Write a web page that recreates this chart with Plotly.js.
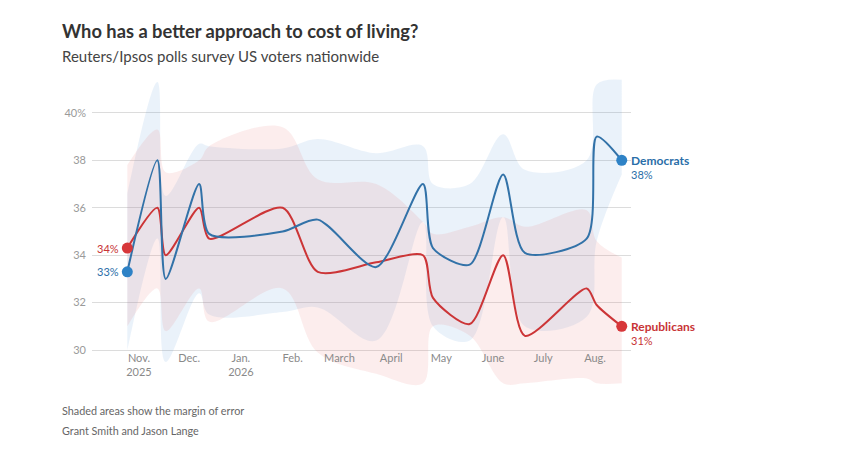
<!DOCTYPE html>
<html>
<head>
<meta charset="utf-8">
<script src="https://cdn.plot.ly/plotly-3.0.1.min.js"></script>
<style>
html,body{margin:0;padding:0;background:#fff;}
#chart{width:842px;height:453px;}
</style>
</head>
<body>
<div id="chart"></div>
<script>
// ---- data ----
const dates = ['2025-10-25','2025-11-12','2025-11-17','2025-12-07','2025-12-13','2026-01-26','2026-02-16','2026-03-23','2026-04-20','2026-04-26','2026-05-18','2026-06-07','2026-06-20','2026-07-27','2026-08-02','2026-08-17'];
const dem   = [33.3,38.0,33.0,37.0,34.9,35.0,35.5,33.5,37.0,34.3,33.6,37.4,34.1,34.7,39.0,38.0];
const rep   = [34.3,36.0,34.0,36.0,34.7,36.0,33.3,33.7,34.0,32.2,31.1,34.0,30.6,32.6,31.9,31.0];
const demHi = [36.6,41.3,36.5,38.7,38.6,38.5,38.9,38.3,38.6,37.0,37.0,39.1,37.6,38.0,41.2,41.4];
const demLo = [30.0,34.7,29.5,32.4,31.5,31.6,31.8,30.4,35.4,31.0,30.4,35.6,31.0,31.4,34.6,37.4];
const repHi = [37.8,39.3,37.5,38.0,38.6,39.4,37.2,37.0,35.4,34.9,35.2,35.6,35.2,35.9,34.6,33.9];
const repLo = [31.0,32.6,30.8,32.6,31.2,32.6,29.9,29.0,28.6,31.0,30.6,28.6,28.6,28.8,28.6,28.6];

const tickDates = ['2025-11-01','2025-12-01','2026-01-01','2026-02-01','2026-03-01','2026-04-01','2026-05-01','2026-06-01','2026-07-01','2026-08-01'];
const tickLabels = ['Nov.<br>2025','Dec.','Jan.<br>2026','Feb.','March','April','May','June','July','Aug.'];
const yTicks = [30,32,34,36,38,40];
const yTickLabels = ['30','32','34','36','38','40%'];

// ---- styling ----
const BLUE_LINE = '#3272a8', BLUE_DOT = '#2e82c6', BLUE_TXT = '#2a6ea8';
const RED_LINE = '#cc3537', RED_DOT = '#d7373a', RED_TXT = '#c83436';
const FONT = 'Lato, "Open Sans", sans-serif';

// plot-area pixel geometry
const L = 92, R = 631, T = 75, B = 388;
const W = 842, H = 453;
const px = x => (x - L) / (R - L);
const py = y => (B - y) / (B - T);

const last = dates.length - 1;

const traces = [
  {x: dates, y: demLo, type: 'scatter', mode: 'lines', line: {width: 0, shape: 'spline', smoothing: 1}, hoverinfo: 'skip', showlegend: false},
  {x: dates, y: demHi, type: 'scatter', mode: 'lines', fill: 'tonexty', fillcolor: 'rgba(80,147,213,0.12)', line: {width: 0, shape: 'spline', smoothing: 1}, hoverinfo: 'skip', showlegend: false},
  {x: dates, y: repLo, type: 'scatter', mode: 'lines', line: {width: 0, shape: 'spline', smoothing: 1}, hoverinfo: 'skip', showlegend: false},
  {x: dates, y: repHi, type: 'scatter', mode: 'lines', fill: 'tonexty', fillcolor: 'rgba(228,115,115,0.13)', line: {width: 0, shape: 'spline', smoothing: 1}, hoverinfo: 'skip', showlegend: false},
  {x: dates, y: rep, type: 'scatter', mode: 'lines', line: {color: RED_LINE, width: 2, shape: 'spline', smoothing: 0.75}, showlegend: false},
  {x: dates, y: dem, type: 'scatter', mode: 'lines', line: {color: BLUE_LINE, width: 2, shape: 'spline', smoothing: 0.75}, showlegend: false},
  {x: [dates[0], dates[last]], y: [rep[0], rep[last]], type: 'scatter', mode: 'markers', marker: {color: RED_DOT, size: 11}, showlegend: false, cliponaxis: false},
  {x: [dates[0], dates[last]], y: [dem[0], dem[last]], type: 'scatter', mode: 'markers', marker: {color: BLUE_DOT, size: 11}, showlegend: false, cliponaxis: false}
];

const annotations = [
  {xref: 'paper', yref: 'paper', x: px(60), y: py(56), xanchor: 'left', yanchor: 'middle', showarrow: false,
   text: 'Reuters/Ipsos polls survey US voters nationwide', font: {family: FONT, size: 15, color: '#444'}},
  {xref: 'paper', yref: 'paper', x: px(60), y: py(410), xanchor: 'left', yanchor: 'middle', showarrow: false,
   text: 'Shaded areas show the margin of error', font: {family: FONT, size: 10.8, color: '#666'}},
  {xref: 'paper', yref: 'paper', x: px(60), y: py(430), xanchor: 'left', yanchor: 'middle', showarrow: false,
   text: 'Grant Smith and Jason Lange', font: {family: FONT, size: 10.8, color: '#666'}},
  // start labels
  {x: dates[0], y: rep[0], xanchor: 'right', yanchor: 'middle', xshift: -6, showarrow: false,
   text: Math.round(rep[0]) + '%', font: {family: FONT, size: 11, color: RED_TXT}},
  {x: dates[0], y: dem[0], xanchor: 'right', yanchor: 'middle', xshift: -6, showarrow: false,
   text: Math.round(dem[0]) + '%', font: {family: FONT, size: 11, color: BLUE_TXT}},
  // end labels
  {x: dates[last], y: dem[last], xanchor: 'left', yanchor: 'middle', xshift: 7, showarrow: false,
   text: '<b>Democrats</b>', font: {family: FONT, size: 12, color: BLUE_TXT}},
  {x: dates[last], y: dem[last], xanchor: 'left', yanchor: 'middle', xshift: 7, yshift: -14, showarrow: false,
   text: Math.round(dem[last]) + '%', font: {family: FONT, size: 11, color: BLUE_TXT}},
  {x: dates[last], y: rep[last], xanchor: 'left', yanchor: 'middle', xshift: 7, showarrow: false,
   text: '<b>Republicans</b>', font: {family: FONT, size: 12, color: RED_TXT}},
  {x: dates[last], y: rep[last], xanchor: 'left', yanchor: 'middle', xshift: 7, yshift: -14, showarrow: false,
   text: Math.round(rep[last]) + '%', font: {family: FONT, size: 11, color: RED_TXT}}
];

const layout = {
  width: W, height: H,
  margin: {l: L, r: W - R, t: T, b: H - B, pad: 0},
  paper_bgcolor: '#fff', plot_bgcolor: 'rgba(0,0,0,0)',
  title: {text: '<b>Who has a better approach to cost of living?</b>', xref: 'container', yref: 'container',
          x: 62 / W, y: 1 - 32 / H, xanchor: 'left', yanchor: 'middle',
          font: {family: FONT, size: 18.3, color: '#333'}},
  xaxis: {
    type: 'date', range: ['2025-10-03 20:40', '2026-08-22 13:00'],
    tickmode: 'array', tickvals: tickDates, ticktext: tickLabels,
    anchor: 'free', position: py(350),
    showgrid: false, zeroline: false, showline: false, ticks: '',
    tickfont: {family: FONT, size: 11, color: '#8a8a8a'}, fixedrange: true
  },
  yaxis: {
    range: [28.4, 41.6], tickmode: 'array', tickvals: yTicks, ticktext: yTickLabels,
    showgrid: true, gridcolor: '#dcdcdc', gridwidth: 1, zeroline: false, showline: false, ticks: '',
    ticklabelstandoff: 5,
    tickfont: {family: FONT, size: 11, color: '#9a9a9a'}, fixedrange: true
  },
  annotations: annotations,
  showlegend: false,
  hovermode: false
};

Plotly.newPlot('chart', traces, layout, {staticPlot: true, displayModeBar: false});
</script>
</body>
</html>
